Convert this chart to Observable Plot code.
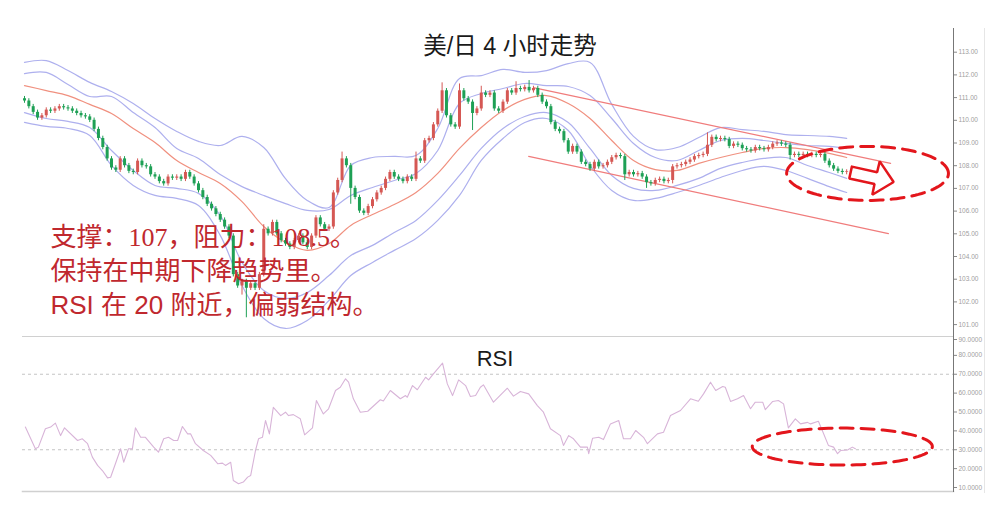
<!DOCTYPE html>
<html><head><meta charset="utf-8">
<script src="https://cdn.jsdelivr.net/npm/d3@7"></script>
<script src="https://cdn.jsdelivr.net/npm/@observablehq/plot@0.6"></script>
<style>
body{margin:0;background:#fff;}
#wrap{position:relative;width:991px;height:513px;overflow:hidden;background:#fff;}
#top,#bot{position:absolute;left:0;}
#top{top:0px;} #bot{top:330px;}
#edge{position:absolute;left:984px;top:28px;width:1px;height:465px;background:#e6e6e6;}
svg{overflow:visible;}
</style></head>
<body><div id="wrap"><div id="top"></div><div id="bot"></div><div id="edge"></div></div>
<script>
// ---------- data ----------
const firstOpen = 110.95;
const closes = [
110.85,110.6,110.35,110.1,110.2,110.45,110.4,110.5,110.6,110.55,
110.5,110.4,110.3,110.2,110.15,110.0,109.6,109.2,108.8,108.3,
107.9,107.8,108.3,108.0,107.75,107.7,108.2,108.0,107.95,107.6,
107.5,107.3,107.2,107.5,107.45,107.5,107.4,107.7,107.5,107.2,
106.9,106.6,106.3,106.1,105.85,105.6,105.3,104.9,103.2,102.7,
102.9,102.6,102.8,102.6,103.2,105.2,105.0,105.5,105.0,104.7,
104.55,104.4,104.7,104.9,104.6,104.4,104.9,105.7,105.4,105.2,
105.3,106.8,107.35,108.3,108.0,107.0,106.6,106.0,105.9,106.2,
106.5,106.8,107.0,107.4,107.7,107.5,107.4,107.3,107.5,107.4,
108.3,108.2,109.1,109.2,109.8,110.4,111.3,110.2,109.8,109.7,
111.3,110.95,110.8,110.3,110.5,111.2,111.1,111.2,110.5,110.4,
110.8,111.3,111.2,111.4,111.35,111.45,111.3,111.4,111.1,110.8,
110.6,109.9,109.6,109.5,109.1,108.6,108.85,108.6,108.15,108.05,
107.85,108.15,107.95,108.0,108.15,108.35,108.45,108.4,107.6,107.7,
107.6,107.65,107.5,107.25,107.2,107.35,107.4,107.3,107.35,107.95,
108.0,108.05,108.15,108.25,108.4,108.45,108.5,108.9,109.25,109.15,
109.2,109.15,108.85,108.95,108.9,108.75,108.7,108.65,108.8,108.75,
108.7,108.8,108.95,109.0,108.95,108.9,108.45,108.5,108.45,108.5,
108.45,108.5,108.45,108.5,108.2,108.0,107.85,107.75,107.7,107.72];
const highs = {55:105.4,73:108.6,90:108.6,96:111.65,100:111.6,105:111.5,113:111.7,116:111.75,157:109.45};
const lows = {50:102.3,51:101.3,75:106.3,103:109.55,138:107.35,143:107.0,149:107.2,176:108.25};

const bandIdx = [0,5,10,15,20,25,30,35,40,45,50,55,60,65,70,75,80,85,90,95,100,105,110,115,120,125,130,135,140,145,150,155,160,165,170,175,180,185,189];
const bbUp2 = [112.55,112.63,112.19,111.67,111.27,110.74,110.08,109.51,109.07,108.89,109.29,108.80,107.43,106.47,106.16,108.01,108.36,108.41,108.45,109.64,111.84,111.97,112.24,112.11,112.19,112.50,112.55,110.70,109.29,108.71,108.80,109.24,109.68,109.59,109.51,109.37,109.33,109.29,109.20];
const bbUp1 = [112.06,112.11,111.58,111.05,111.05,110.34,109.68,108.76,108.32,107.61,107.08,106.69,106.33,106.03,106.07,106.69,107.04,107.35,107.66,108.67,110.74,111.18,111.40,111.62,111.53,111.49,111.09,110.08,108.98,108.36,108.23,108.67,109.11,109.20,109.11,108.98,108.89,108.85,108.76];
const maLine = [111.53,111.31,111.09,110.70,110.30,109.64,109.02,108.23,107.70,107.22,106.42,105.32,104.62,104.27,104.57,105.37,105.85,106.29,106.82,107.66,108.76,109.68,110.43,110.92,111.09,110.74,110.08,109.11,108.23,107.83,107.79,108.10,108.36,108.58,108.76,108.80,108.71,108.54,108.36];
const bbLo1 = [110.34,110.08,109.95,109.68,108.67,107.79,107.13,107.0,106.78,105.81,103.74,102.50,102.15,102.41,103.16,104.04,104.49,105.06,105.59,106.47,107.57,108.76,109.64,110.17,110.34,109.90,108.76,107.57,107.0,106.91,107.13,107.44,107.88,108.14,108.32,108.36,108.01,107.70,107.44];
const bbLo2 = [109.91,109.73,109.64,109.33,108.01,107.13,106.69,106.56,106.25,104.93,102.72,101.27,100.83,101.18,102.06,103.16,103.74,104.27,104.79,105.59,106.69,108.23,109.20,109.90,110.08,109.55,108.01,106.91,106.47,106.56,106.82,107.13,107.48,107.79,107.97,107.79,107.44,107.08,106.82];

const trendUpper = [[117.0,111.44],[199.1,108.10]];
const trendLower = [[115.9,108.41],[198.6,105.01]];

const rsiIdx = [0.2,2.5,3.2,4.8,6.0,7.1,8.3,9.2,12.2,13.3,
14.5,15.6,16.8,17.9,19.1,19.8,20.9,22.1,22.8,23.9,
24.8,25.5,26.7,27.8,29.7,30.8,32.0,33.1,34.3,35.2,
36.3,37.5,38.2,39.3,41.1,42.8,44.4,45.5,46.2,47.4,
48.0,49.2,50.3,51.3,52.0,53.1,53.8,54.7,55.4,56.3,
57.2,58.9,60.0,60.7,61.8,63.4,64.4,66.2,67.1,68.7,
69.9,71.5,72.6,73.8,74.5,75.6,77.2,78.9,81.8,82.5,
84.1,86.4,87.6,88.0,89.2,90.3,92.2,92.9,94.0,96.1,
97.2,98.4,99.8,101.4,102.5,103.7,104.8,105.5,107.8,111.0,
112.4,114.0,115.9,117.9,119.3,120.9,123.2,123.9,125.1,126.2,
127.8,129.4,129.7,130.6,132.0,133.1,134.7,136.6,137.7,139.3,
140.5,142.3,143.2,145.5,146.9,148.5,150.8,153.1,154.9,156.1,
157.7,158.9,160.5,161.1,162.3,163.9,165.3,166.9,168.0,169.7,
170.3,172.0,173.3,174.5,175.6,177.2,178.4,180.0,180.7,182.5,
183.4,184.8,186.0,186.9,187.6,189.2,190.3,191.0];
const rsiVal = [42.0,30.5,31.4,41.1,42.0,44.1,37.5,41.6,34.9,35.8,
33.2,26.1,21.7,19.0,15.1,15.4,22.6,30.5,23.4,30.5,
30.5,41.6,36.6,36.6,31.4,28.7,35.8,36.6,34.9,34.9,
42.3,38.4,38.4,33.2,29.6,27.0,22.6,22.9,21.7,23.4,
13.7,12.0,12.9,15.5,16.4,29.6,35.8,36.6,45.5,38.4,
52.5,48.1,49.9,48.1,48.6,46.4,37.9,41.6,56.1,49.0,
51.7,61.4,63.1,67.6,65.8,57.0,49.9,50.4,56.5,55.8,
61.4,57.0,58.7,57.8,64.0,61.8,68.4,67.0,70.2,75.9,
64.9,58.7,67.0,64.0,58.2,58.7,63.1,64.4,55.2,62.6,
58.4,60.9,59.6,53.4,49.9,41.1,37.5,32.3,37.5,35.8,
31.4,31.4,27.9,36.1,36.6,35.4,43.7,45.5,35.8,35.8,
40.2,36.6,33.2,38.4,39.3,48.1,50.8,57.0,55.7,59.6,
65.8,61.4,63.5,63.1,55.6,57.0,58.7,51.7,55.2,55.2,
51.2,55.6,56.1,54.3,41.6,46.4,43.7,44.5,43.7,45.1,
40.2,32.3,31.4,27.9,29.6,29.9,31.4,30.5];

const priceTicks = [101,102,103,104,105,106,107,108,109,110,111,112,113];
const rsiTicks = [10,20,30,40,50,60,70,80,90];
const rsiLevels = [30,70];

const titleText = "美/日 4 小时走势";
const rsiTitle = "RSI";
const notes = ["支撑：107，阻力：108.5。", "保持在中期下降趋势里。", "RSI 在 20 附近，偏弱结构。"];

// annotation shapes (data units)
const topEllipse = {cx: 193.8, cy: 107.66, rx: 18.6, ry: 1.19};
const botEllipse = {cx: 188.0, cy: 31.7, rx: 20.7, ry: 9.8};
const arrowX = [190.2,196.0,196.6,199.8,194.9,195.4,189.6,190.2];
const arrowY = [107.96,107.71,108.19,107.28,106.72,107.19,107.44,107.96];

// ---------- build ----------
const RED = "#d55854", GREEN = "#1ea055";
const candles = closes.map((c, i) => {
  const o = i ? closes[i - 1] : firstOpen;
  let b2 = c; if (Math.abs(c - o) < 0.03) b2 = o + 0.03;
  const h = highs[i] ?? Math.max(o, c) + 0.1;
  const l = lows[i] ?? Math.min(o, c) - 0.1;
  return {i, o, c: b2, h, l, col: c >= o ? RED : GREEN};
});
const band = arr => bandIdx.map((x, k) => ({x, y: arr[k]}));
const seg = pts => pts.map(([x, y]) => ({x, y}));
const ell = e => d3.range(0, 361, 3).map(a => ({x: e.cx + e.rx * Math.cos(a * Math.PI / 180), y: e.cy + e.ry * Math.sin(a * Math.PI / 180)}));
const rsi = rsiIdx.map((x, k) => ({x, y: rsiVal[k]}));
const arrow = arrowX.map((x, k) => ({x, y: arrowY[k]}));

const XDOM = [-0.46, 213.56];
const BAND = "#aeb0ee", MA = "#f0907f", TREND = "#f07c7c", ANN = "#e3161c", NOTE = "#c0282e";
const axisStyle = {anchor: "right", label: null, tickSize: 3, tickPadding: 2, fontSize: 6.5, fill: "#a0a0a0", stroke: "#888"};

const topPlot = Plot.plot({
  width: 991, height: 337,
  marginLeft: 22, marginRight: 38, marginTop: 28, marginBottom: 0,
  x: {domain: XDOM, axis: null},
  y: {domain: [100.432, 114.044], label: null},
  color: {type: "identity"},
  style: {background: "transparent", fontFamily: "'Liberation Sans', Arial, sans-serif"},
  marks: [
    Plot.frame({anchor: "right", stroke: "#777"}),
    Plot.axisY({...axisStyle, ticks: priceTicks, tickFormat: d => d.toFixed(2)}),
    Plot.line(band(bbUp2), {x: "x", y: "y", curve: "catmull-rom", stroke: BAND, strokeWidth: 1.2}),
    Plot.line(band(bbUp1), {x: "x", y: "y", curve: "catmull-rom", stroke: BAND, strokeWidth: 1.2}),
    Plot.line(band(bbLo1), {x: "x", y: "y", curve: "catmull-rom", stroke: BAND, strokeWidth: 1.2}),
    Plot.line(band(bbLo2), {x: "x", y: "y", curve: "catmull-rom", stroke: BAND, strokeWidth: 1.2}),
    Plot.line(band(maLine), {x: "x", y: "y", curve: "catmull-rom", stroke: MA, strokeWidth: 1.2}),
    Plot.line(seg(trendUpper), {x: "x", y: "y", stroke: TREND, strokeWidth: 1.2}),
    Plot.line(seg(trendLower), {x: "x", y: "y", stroke: TREND, strokeWidth: 1.2}),
    Plot.ruleX(candles, {x: "i", y1: "l", y2: "h", stroke: "col", strokeWidth: 1}),
    Plot.ruleX(candles, {x: "i", y1: "o", y2: "c", stroke: "col", strokeWidth: 3}),
    Plot.line(ell(topEllipse), {x: "x", y: "y", stroke: ANN, strokeWidth: 3, strokeDasharray: "13,8"}),
    Plot.line(arrow, {x: "x", y: "y", stroke: ANN, fill: "white", strokeWidth: 2.5, strokeLinejoin: "miter"}),
    Plot.text([titleText], {frameAnchor: "top", dx: 22, dy: 25, lineAnchor: "bottom", fontSize: 23.5, fill: "#1a1a1a", fontFamily: "'Liberation Sans', 'Noto Sans CJK SC', sans-serif"}),
    Plot.text([notes[0]], {frameAnchor: "top-left", dx: 28, dy: 217, lineAnchor: "bottom", textAnchor: "start", fontSize: 26, fill: NOTE, fontFamily: "'Liberation Serif', 'Noto Sans CJK SC', serif"}),
    Plot.text([notes[1]], {frameAnchor: "top-left", dx: 28, dy: 251, lineAnchor: "bottom", textAnchor: "start", fontSize: 26, fill: NOTE, fontFamily: "'Liberation Serif', 'Noto Sans CJK SC', serif"}),
    Plot.text([notes[2]], {frameAnchor: "top-left", dx: 28, dy: 285, lineAnchor: "bottom", textAnchor: "start", fontSize: 26, fill: NOTE, fontFamily: "'Liberation Sans', 'Noto Sans CJK SC', sans-serif"})
  ]
});
document.getElementById("top").appendChild(topPlot);

const botPlot = Plot.plot({
  width: 991, height: 183,
  marginLeft: 22, marginRight: 38, marginTop: 6, marginBottom: 22,
  x: {domain: XDOM, axis: null},
  y: {domain: [7.88, 90], label: null},
  style: {background: "transparent", fontFamily: "'Liberation Sans', Arial, sans-serif"},
  marks: [
    Plot.frame({anchor: "top", stroke: "#d0d0d0"}),
    Plot.frame({anchor: "bottom", stroke: "#d0d0d0", strokeWidth: 1.5}),
    Plot.ruleY(rsiLevels, {stroke: "#c4c4c4", strokeDasharray: "3,3"}),
    Plot.frame({anchor: "right", stroke: "#777"}),
    Plot.axisY({...axisStyle, ticks: rsiTicks.filter(t => t < 90), tickFormat: d => d.toFixed(4)}),
    Plot.axisY({...axisStyle, ticks: rsiTicks.filter(t => t === 90), tickFormat: d => d.toFixed(4), dy: 3}),
    Plot.line(rsi, {x: "x", y: "y", stroke: "#d8b4d8", strokeWidth: 1.1}),
    Plot.line(ell(botEllipse), {x: "x", y: "y", stroke: ANN, strokeWidth: 3, strokeDasharray: "13,8"}),
    Plot.text([rsiTitle], {frameAnchor: "top", dx: 7, dy: 29, lineAnchor: "bottom", fontSize: 22, fill: "#1a1a1a", fontFamily: "'Liberation Sans', Arial, sans-serif"})
  ]
});
document.getElementById("bot").appendChild(botPlot);
</script>
</body></html>
